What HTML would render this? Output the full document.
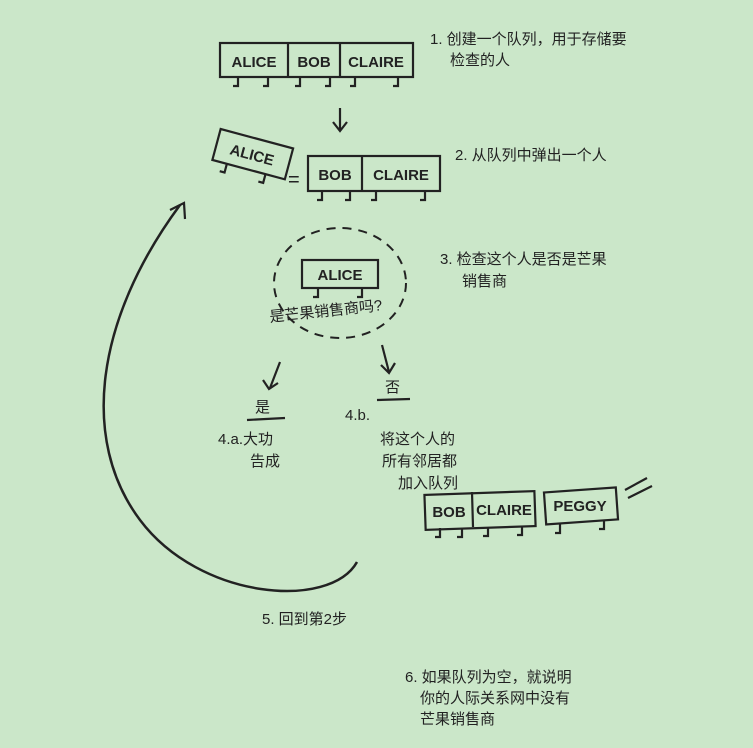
<!DOCTYPE html>
<html><head><meta charset="utf-8"><style>
html,body{margin:0;padding:0;background:#cbe7c9;}
svg{display:block}
text{font-family:"Liberation Sans","Noto Sans CJK SC",sans-serif;fill:#222}
.box{fill:none;stroke:#222;stroke-width:2.2}
.lbl{font-size:15px;font-weight:bold;text-anchor:middle}
.cn{font-size:15px}
.leg{stroke:#222;stroke-width:2.2;fill:none}
</style></head><body>
<svg width="753" height="748" viewBox="0 0 753 748">
<rect width="753" height="748" fill="#cbe7c9"/>

<g>
<rect class="box" x="220" y="43" width="193" height="34"/>
<line class="leg" x1="288" y1="43" x2="288" y2="77"/><line class="leg" x1="340" y1="43" x2="340" y2="77"/>
<text class="lbl" x="254" y="67">ALICE</text><text class="lbl" x="314" y="67">BOB</text><text class="lbl" x="376" y="67">CLAIRE</text>
<path class="leg" d="M238 77v9h-5M268 77v9h-5M300 77v9h-5M330 77v9h-5M355 77v9h-5M398 77v9h-5"/>
</g>
<path class="leg" d="M340 108v22M333 122l7 9 7-9"/>

<g transform="rotate(15 252 155)">
<rect class="box" x="215" y="138" width="75" height="32"/>
<text class="lbl" x="252" y="160">ALICE</text>
<path class="leg" d="M230 170v9h-5M270 170v9h-5"/>
</g>
<text x="288" y="186" style="font-size:20px">=</text>
<g>
<rect class="box" x="308" y="156" width="132" height="35"/>
<line class="leg" x1="362" y1="156" x2="362" y2="191"/>
<text class="lbl" x="335" y="180">BOB</text><text class="lbl" x="401" y="180">CLAIRE</text>
<path class="leg" d="M322 191v9h-5M350 191v9h-5M376 191v9h-5M425 191v9h-5"/>
</g>

<text class="cn" x="430" y="44">1. 创建一个队列，用于存储要</text>
<text class="cn" x="450" y="65">检查的人</text>
<text class="cn" x="455" y="160">2. 从队列中弹出一个人</text>
<text class="cn" x="440" y="264">3. 检查这个人是否是芒果</text>
<text class="cn" x="462" y="286">销售商</text>

<ellipse cx="340" cy="283" rx="66" ry="55" fill="none" stroke="#222" stroke-width="2" stroke-dasharray="9 7"/>
<g>
<rect class="box" x="302" y="260" width="76" height="28"/>
<text class="lbl" x="340" y="280">ALICE</text>
<path class="leg" d="M318 288v9h-5M362 288v9h-5"/>
</g>
<text class="cn" x="270" y="322" transform="rotate(-6 270 322)">是芒果销售商吗?</text>

<path class="leg" d="M280 362l-10 26M263 380l6 9 9-6"/>
<path class="leg" d="M382 345l7 27M381 365l8 8 6-10"/>
<text class="cn" x="255" y="412">是</text>
<line class="leg" x1="247" y1="420" x2="285" y2="418"/>
<text class="cn" x="385" y="392">否</text>
<line class="leg" x1="377" y1="400" x2="410" y2="399"/>
<text class="cn" x="218" y="444">4.a.大功</text>
<text class="cn" x="250" y="466">告成</text>
<text class="cn" x="345" y="420">4.b.</text>
<text class="cn" x="380" y="444">将这个人的</text>
<text class="cn" x="382" y="466">所有邻居都</text>
<text class="cn" x="398" y="488">加入队列</text>

<g>
<rect class="box" x="425" y="493" width="110" height="35" transform="rotate(-2 480 510)"/>
<line class="leg" x1="472" y1="492" x2="473" y2="527"/>
<text class="lbl" x="449" y="517">BOB</text><text class="lbl" x="504" y="515">CLAIRE</text>
<rect class="box" x="545" y="490" width="72" height="32" transform="rotate(-4 580 506)"/>
<text class="lbl" x="580" y="511">PEGGY</text>
<path class="leg" d="M440 528v9h-5M462 528v9h-5M488 527v9h-5M522 526v9h-5M560 524v9h-5M604 520v9h-5"/>
<path class="leg" d="M625 490l22-12M628 498l24-12"/>
</g>

<path d="M357 562 C330 610 200 600 140 520 C80 440 95 320 180 205" fill="none" stroke="#222" stroke-width="2.5"/>
<path class="leg" d="M170 210l14-7 1 16"/>
<text class="cn" x="262" y="624">5. 回到第2步</text>

<text class="cn" x="405" y="682">6. 如果队列为空，就说明</text>
<text class="cn" x="420" y="703">你的人际关系网中没有</text>
<text class="cn" x="420" y="724">芒果销售商</text>
</svg>
</body></html>
